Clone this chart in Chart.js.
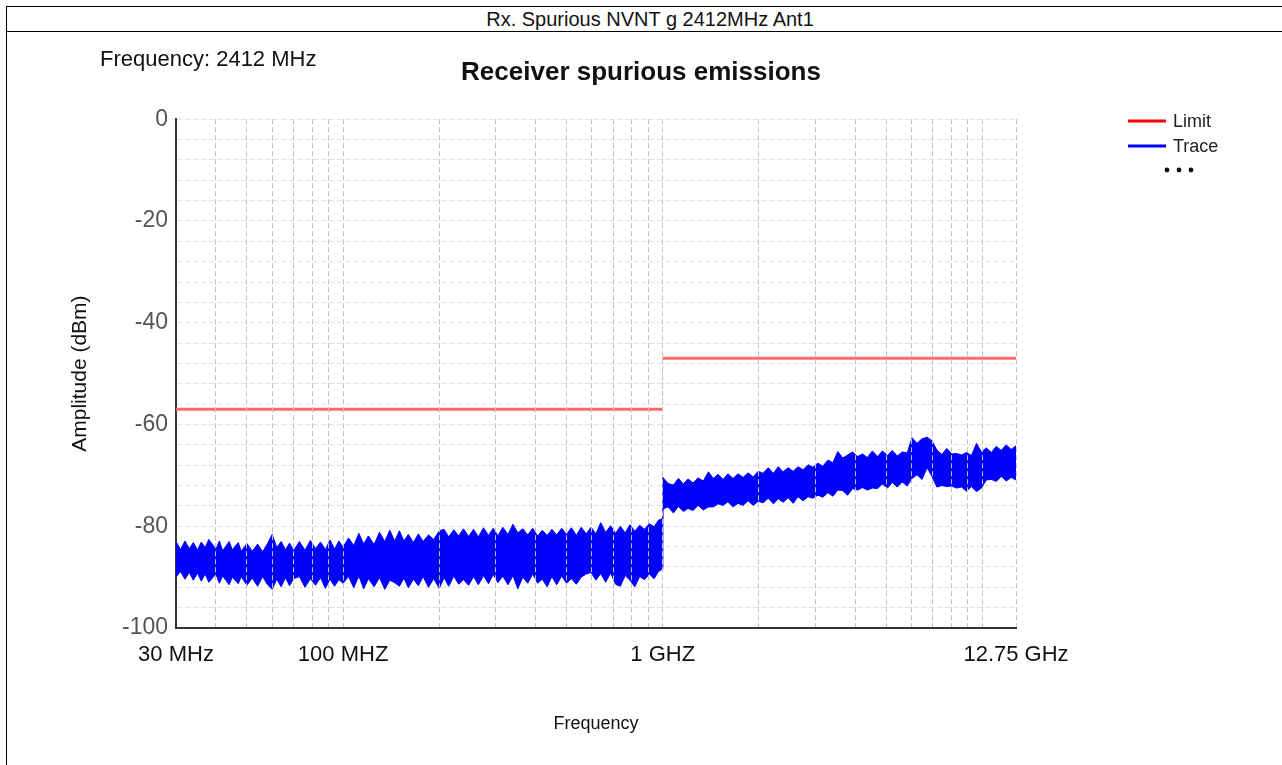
<!DOCTYPE html>
<html>
<head>
<meta charset="utf-8">
<script src="https://cdn.jsdelivr.net/npm/chart.js@4.4.0/dist/chart.umd.min.js"></script>
<style>
body{margin:0;width:1282px;height:765px;overflow:hidden;background:#fff;font-family:"Liberation Sans",Arial,sans-serif;position:relative}
#frame{position:absolute;left:6px;top:6px;width:1300px;height:800px;border-left:1px solid #000;border-top:1px solid #000}
#head{position:absolute;left:6px;top:7px;width:1288px;height:24px;border-bottom:1px solid #000;text-align:center;font-size:20px;line-height:24px;color:#111}
#freq{position:absolute;left:100px;top:48px;font-size:22px;line-height:22px;color:#111}
canvas{position:absolute;left:0;top:0}
</style>
</head>
<body>
<div id="frame"></div>
<div id="head">Rx. Spurious NVNT g 2412MHz Ant1</div>
<canvas id="spurChart" width="1282" height="765"></canvas>
<div id="freq">Frequency: 2412 MHz</div>
<script>
// limit line (MHz / dBm)
const limitFreq = [30, 1000, 1000, 12750];
const limitLevel = [-57, -57, -47, -47];

// measured trace, upper and lower edge of the noise band (MHz / dBm)
const traceFreq = [
    30, 31, 32, 33, 34, 35, 36, 37, 38,
    40, 41, 42, 44, 45, 47, 48, 50,
    52, 54, 56, 58, 60, 62, 64, 66, 68, 70,
    73, 76, 79, 82, 85, 88, 91, 94, 97, 100,
    104, 108, 112, 116, 120, 125, 130, 135, 140, 145,
    150, 155, 160, 166, 172, 178, 185, 192, 200,
    207, 214, 222, 230, 238, 247, 256, 265, 275, 285,
    295, 305, 316, 328, 340, 352, 365, 378, 392, 406,
    420, 435, 450, 466, 483, 500, 518, 537, 556, 576,
    597, 618, 640, 663, 687, 712, 737, 763, 790, 818,
    847, 877, 908, 940, 970, 999,
    1001, 1040, 1080, 1120, 1160, 1200, 1245, 1290, 1340, 1390,
    1440, 1490, 1545, 1600, 1660, 1720, 1785, 1850, 1920, 1990,
    2060, 2140, 2220, 2300, 2380, 2470, 2560, 2650, 2750, 2850,
    2950, 3060, 3170, 3290, 3410, 3530, 3660, 3790, 3930, 4070,
    4220, 4370, 4530, 4700, 4870, 5050, 5230, 5420, 5620, 5820,
    6030, 6250, 6480, 6720, 6960, 7210, 7470, 7740, 8020, 8310,
    8610, 8930, 9250, 9590, 9940, 10300, 10670, 11060, 11460, 11880, 12310, 12750
];
const traceMax = [
    -83.0, -84.6, -82.9, -84.4, -83.2, -84.7, -83.1, -84.2, -82.6,
    -84.5, -82.9, -84.8, -83.0, -84.6, -83.2, -84.9, -83.4,
    -84.9, -83.5, -85.0, -83.4, -81.6, -84.2, -83.0, -84.6, -83.3, -84.8,
    -83.0, -84.7, -82.8, -84.4, -83.1, -84.6, -82.7, -84.5, -82.9, -84.1,
    -82.3, -83.8, -81.4, -83.5, -81.9, -83.6, -81.2, -83.0, -80.8, -82.9,
    -80.9, -82.9, -81.6, -83.2, -81.5, -83.0, -81.7, -82.6, -80.9,
    -80.6, -82.1, -80.7, -81.9, -80.5, -82.0, -80.6, -82.1, -80.3, -81.8,
    -80.4, -81.9, -80.2, -81.6, -79.6, -81.3, -80.5, -81.7, -80.4, -81.9,
    -80.8, -81.8, -80.6, -81.7, -80.4, -81.6, -80.3, -81.8, -80.2, -81.5,
    -80.2, -81.5, -79.3, -81.2, -79.9, -81.4, -80.0, -81.3, -79.7, -81.0,
    -79.8, -80.6, -79.5, -80.1, -78.8, -78.5,
    -70.4, -71.6, -71.9, -70.6, -71.7, -70.7, -71.5, -70.5, -71.1, -69.3,
    -70.6, -69.8, -70.8, -69.7, -70.6, -69.7, -70.4, -69.5, -70.3, -69.2,
    -69.6, -68.5, -69.6, -68.3, -69.3, -68.5, -69.2, -68.3, -68.9, -67.9,
    -68.4, -67.6, -68.2, -67.0, -67.5, -65.3, -66.6, -66.0, -65.4, -66.3,
    -65.8, -66.5, -65.2, -66.3, -65.2, -66.1, -65.1, -66.2, -65.4, -65.6,
    -62.6, -63.7, -62.8, -62.5, -63.2, -65.0, -65.9, -64.7, -65.8, -65.7,
    -66.0, -65.5, -66.1, -63.7, -65.4, -64.6, -65.5, -64.3, -65.1, -64.0, -64.9, -64.2
];
const traceMin = [
    -90.0, -88.9, -90.4, -89.1, -90.6, -89.2, -90.8, -89.4, -91.0,
    -89.4, -91.2, -89.8, -91.5, -90.0, -91.3, -89.9, -91.6,
    -90.2, -91.8, -89.9, -91.5, -92.4, -90.4, -91.9, -90.1, -91.7, -90.3,
    -89.9, -92.0, -90.3, -91.6, -90.1, -92.2, -90.4, -91.8, -90.5, -91.2,
    -89.9, -92.1, -89.8, -92.3, -90.3, -91.9, -90.1, -92.4, -90.6, -91.1,
    -91.8, -90.2, -92.1, -90.4, -91.7, -89.9, -92.0, -90.3, -92.2,
    -90.1, -91.8, -89.8, -91.4, -90.5, -91.6, -89.9, -91.5, -89.7, -91.3,
    -89.5, -91.1, -89.8, -91.5, -89.7, -92.3, -90.0, -91.2, -89.4, -91.2,
    -90.4, -91.9, -89.9, -91.5, -89.8, -91.2, -90.3, -91.4, -90.0, -89.4,
    -89.1, -90.6, -89.3, -91.0, -89.2, -91.4, -91.8, -89.7, -90.6, -91.9,
    -89.9, -90.5, -89.4, -90.3, -88.9, -88.4,
    -76.6, -76.2, -77.4, -76.1, -77.1, -76.5, -76.9, -75.9, -76.8, -76.2,
    -76.2, -75.6, -75.9, -75.2, -76.2, -75.5, -75.9, -75.0, -75.9, -75.1,
    -75.4, -74.5, -75.6, -74.6, -75.3, -74.4, -75.5, -74.2, -75.0, -74.2,
    -74.5, -73.9, -74.3, -73.4, -74.1, -72.9, -73.0, -73.9, -72.6, -72.9,
    -72.4, -72.9, -72.5, -72.6, -71.7, -72.5, -71.4, -72.3, -71.3, -72.1,
    -70.6, -69.9, -70.8, -68.5, -70.2, -72.3, -72.0, -72.2, -72.1, -72.5,
    -72.3, -73.1, -72.2, -73.2, -72.5, -70.9, -70.8, -71.2, -70.2, -71.1, -70.4, -70.9
];

// x axis grid positions and the labelled ones
const xGridFreqs = [30, 40, 50, 60, 70, 80, 90, 100, 200, 300, 400, 500, 600, 700, 800, 900,
    1000, 2000, 3000, 4000, 5000, 6000, 7000, 8000, 9000, 10000, 12750];
const xTickValues = [30, 100, 1000, 12750];
const xTickLabels = ['30 MHz', '100 MHZ', '1 GHZ', '12.75 GHz'];
const yTickLabels = [0, -20, -40, -60, -80, -100];

const legendNames = ['Limit', 'Trace'];
const legendColors = ['#ff0000', '#0000ff'];

const FONT = "'Liberation Sans', Arial, sans-serif";
Chart.defaults.font.family = FONT;

function pts(xs, ys) {
    return xs.map((x, i) => ({ x: x, y: ys[i] }));
}

// grid lines are drawn over the trace in the original
const gridOnTop = {
    id: 'gridOnTop',
    afterDatasetsDraw(chart) {
        const ctx = chart.ctx;
        ctx.save();
        chart.scales.x.drawGrid(chart.chartArea);
        ctx.restore();
    }
};

const sideLegend = {
    id: 'sideLegend',
    afterDraw(chart) {
        const ctx = chart.ctx;
        ctx.save();
        ctx.font = '18px ' + FONT;
        ctx.textBaseline = 'middle';
        legendNames.forEach((name, i) => {
            const y = 121 + i * 25;
            ctx.strokeStyle = legendColors[i];
            ctx.lineWidth = 3;
            ctx.beginPath();
            ctx.moveTo(1128, y);
            ctx.lineTo(1166, y);
            ctx.stroke();
            ctx.fillStyle = '#222';
            ctx.fillText(name, 1173, y + 1);
        });
        ctx.fillStyle = '#111';
        [1167, 1179, 1191].forEach(x => {
            ctx.beginPath();
            ctx.arc(x, 170, 2.4, 0, Math.PI * 2);
            ctx.fill();
        });
        ctx.restore();
    }
};

new Chart(document.getElementById('spurChart').getContext('2d'), {
    type: 'line',
    data: {
        datasets: [{
            label: 'Limit',
            data: pts(limitFreq, limitLevel),
            borderColor: '#ff6a6a',
            borderWidth: 3,
            pointRadius: 0,
            fill: false,
            segment: {
                borderColor: c => c.p0.parsed.x === c.p1.parsed.x ? 'rgba(255,80,80,0.35)' : undefined,
                borderWidth: c => c.p0.parsed.x === c.p1.parsed.x ? 1 : undefined,
                borderDash: c => c.p0.parsed.x === c.p1.parsed.x ? [2, 3] : undefined
            }
        }, {
            label: 'Trace',
            data: pts(traceFreq, traceMax),
            borderColor: '#0000ff',
            backgroundColor: '#0000ff',
            borderWidth: 1,
            pointRadius: 0,
            fill: '+1'
        }, {
            label: 'Trace min',
            data: pts(traceFreq, traceMin),
            borderColor: '#0000ff',
            borderWidth: 1,
            pointRadius: 0,
            fill: false
        }]
    },
    options: {
        responsive: false,
        animation: false,
        layout: { padding: 0 },
        plugins: {
            legend: { display: false },
            tooltip: { enabled: false },
            title: {
                display: true,
                text: 'Receiver spurious emissions',
                color: '#111',
                font: { size: 26, weight: 'bold' },
                padding: { top: 57, bottom: 31 }
            }
        },
        scales: {
            x: {
                type: 'logarithmic',
                min: 30,
                max: 12750,
                afterBuildTicks: s => { s.ticks = xGridFreqs.map(v => ({ value: v })); },
                afterFit: s => { s.height = 137; },
                ticks: {
                    autoSkip: false,
                    maxRotation: 0,
                    minRotation: 0,
                    padding: 14,
                    color: '#111',
                    font: { size: 22 },
                    callback: v => {
                        const i = xTickValues.indexOf(v);
                        return i >= 0 ? xTickLabels[i] : '';
                    }
                },
                grid: {
                    color: c => (c.tick && c.tick.value === 30) ? 'rgba(0,0,0,0)' : '#c0c0c0',
                    drawTicks: false
                },
                border: { display: true, color: '#333', width: 2, dash: [5, 3] },
                title: {
                    display: true,
                    text: 'Frequency',
                    color: '#111',
                    font: { size: 18 },
                    padding: { top: 0, bottom: 30 }
                }
            },
            y: {
                min: -100,
                max: 0,
                afterFit: s => { s.width = 176; },
                ticks: {
                    stepSize: 4,
                    autoSkip: false,
                    padding: 8,
                    color: '#555',
                    font: { size: 23 },
                    callback: v => yTickLabels.includes(v) ? String(v) : ''
                },
                grid: {
                    color: c => (c.tick && c.tick.value === -100) ? 'rgba(0,0,0,0)' : '#e2e2e2',
                    drawTicks: false
                },
                border: { display: true, color: '#333', width: 2, dash: [5, 3] },
                title: {
                    display: true,
                    text: 'Amplitude (dBm)',
                    color: '#111',
                    font: { size: 21 },
                    padding: { top: 68, bottom: 0 }
                }
            },
            side: {
                type: 'linear',
                position: 'right',
                afterFit: s => { s.width = 266; },
                ticks: { display: false },
                grid: { drawOnChartArea: false, drawTicks: false },
                border: { display: false }
            }
        }
    },
    plugins: [gridOnTop, sideLegend]
});
</script>
</body>
</html>
